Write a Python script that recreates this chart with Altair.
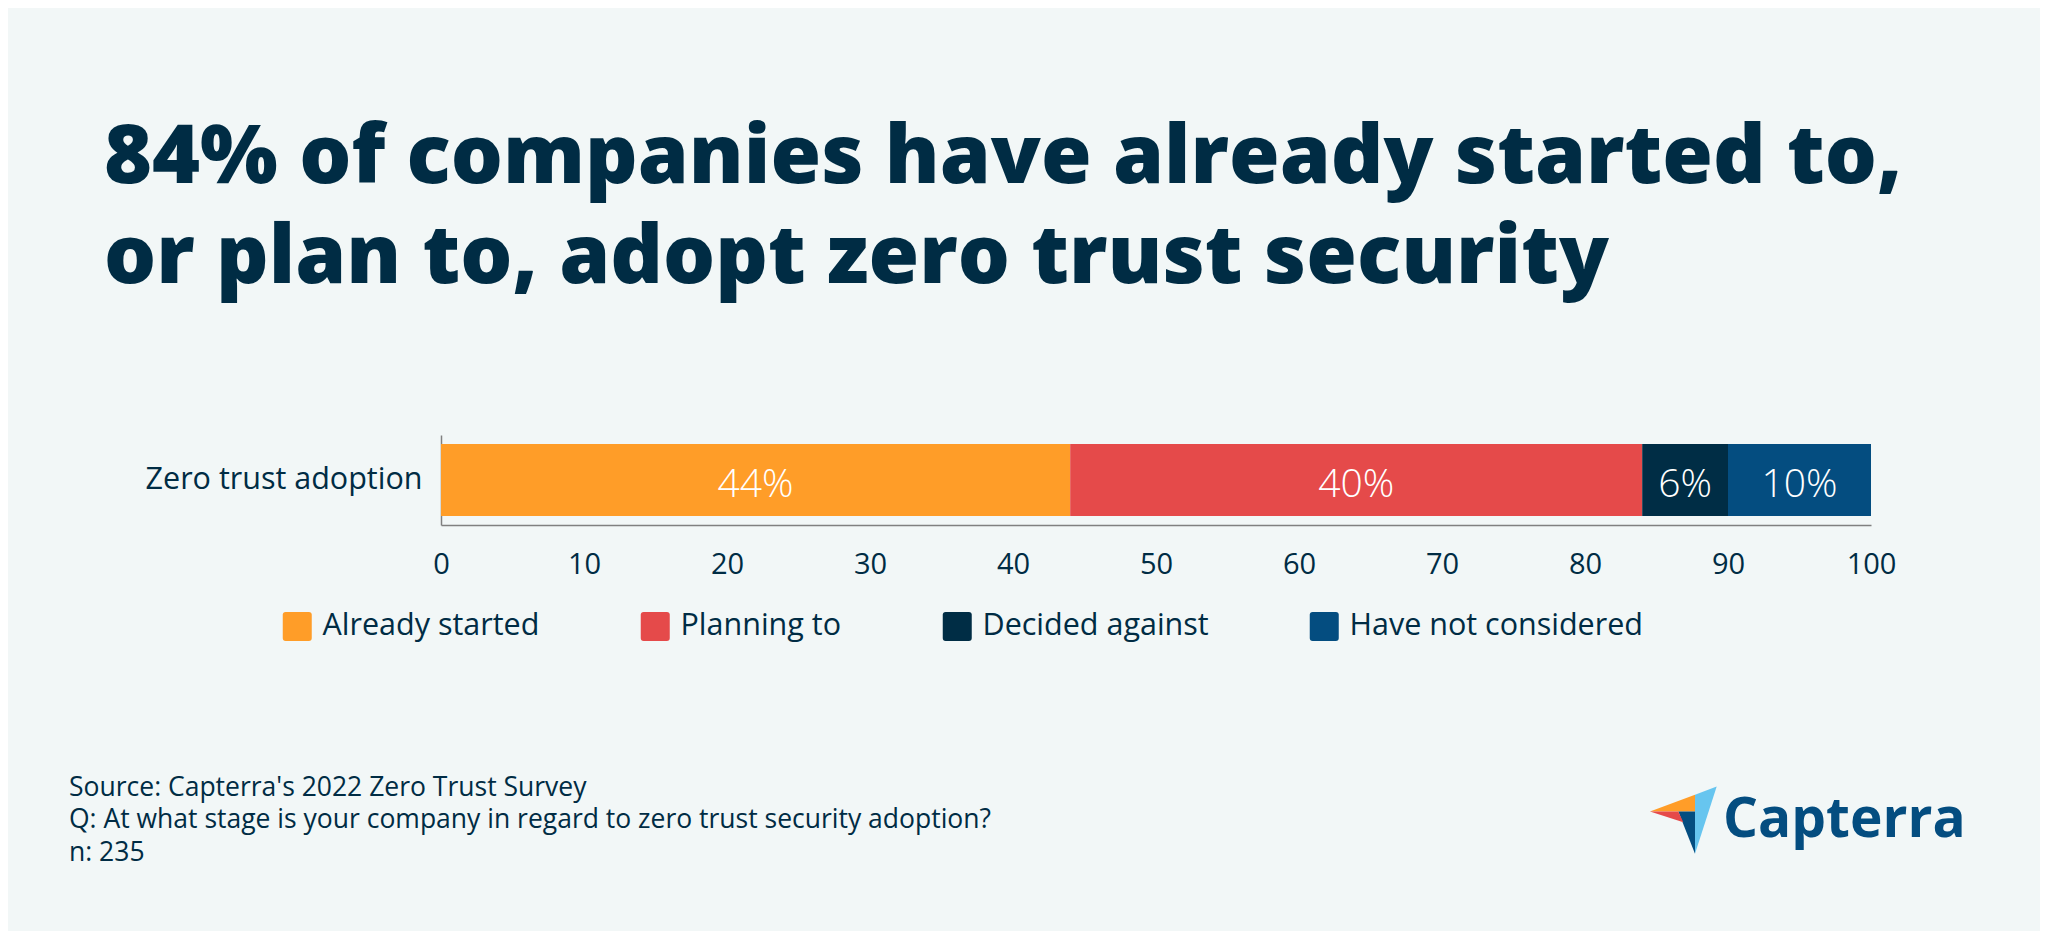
import altair as alt
import pandas as pd

# ---- data ----
question = ["Zero trust adoption"]
categories = ["Already started", "Planning to", "Decided against", "Have not considered"]
values = [44, 40, 6, 10]
bar_labels = ["44%", "40%", "6%", "10%"]
colors = ["#FF9D28", "#E54A4A", "#002D45", "#044D80"]
x_ticks = [0, 10, 20, 30, 40, 50, 60, 70, 80, 90, 100]
title_lines = ["84% of companies have already started to,", "or plan to, adopt zero trust security"]
footer_lines = [
    "Source: Capterra's 2022 Zero Trust Survey",
    "Q: At what stage is your company in regard to zero trust security adoption?",
    "n: 235",
]
brand = "Capterra"

FONT = "Open Sans"
TXT = "#002C44"
BG = "#F2F7F7"

df = pd.DataFrame({
    "question": question * len(categories),
    "category": categories,
    "value": values,
    "order": list(range(len(categories))),
    "label": bar_labels,
})

rounded_sq = ("M-0.8,-1 L0.8,-1 Q1,-1 1,-0.8 L1,0.8 Q1,1 0.8,1 L-0.8,1 "
              "Q-1,1 -1,0.8 L-1,-0.8 Q-1,-1 -0.8,-1 Z")

base = alt.Chart(df)

bars = base.mark_bar(size=72).encode(
    x=alt.X("value:Q", stack="zero",
            scale=alt.Scale(domain=[0, 100], nice=False),
            axis=alt.Axis(values=x_ticks, title=None, grid=False, ticks=False, tickSize=0,
                          labelPadding=25, labelFontSize=29, labelFont=FONT, labelColor=TXT,
                          domainColor="#808080", domainWidth=1.5, labelFlush=False)),
    y=alt.Y("question:N",
            axis=alt.Axis(title=None, ticks=False, tickSize=0, labelPadding=19,
                          labelFontSize=30.5, labelFont=FONT, labelColor=TXT, labelLimit=0,
                          domainColor="#808080", domainWidth=1.5)),
    color=alt.Color("category:N",
                    scale=alt.Scale(domain=categories, range=colors),
                    legend=alt.Legend(orient="none", legendX=-159, legendY=176,
                                      direction="horizontal", title=None,
                                      symbolType=rounded_sq, symbolSize=841,
                                      symbolStrokeWidth=0, symbolOpacity=1,
                                      labelFontSize=30.5, labelFont=FONT, labelColor=TXT,
                                      labelLimit=0, labelOffset=10, columnPadding=100)),
    order=alt.Order("order:Q"),
)

seg_text = base.transform_stack(
    stack="value", groupby=["question"], sort=[alt.SortField("order")], as_=["v0", "v1"]
).transform_calculate(
    mid="(datum.v0 + datum.v1) / 2"
).mark_text(
    font=FONT, fontSize=39, fontWeight=300, color="white", baseline="middle", dy=5
).encode(
    x=alt.X("mid:Q"),
    y=alt.Y("question:N"),
    text="label:N",
)

one = alt.Data(values=[{"k": 1}])


def txt(text, x, y, size, weight=400, color=TXT, align="left"):
    return alt.Chart(one).mark_text(
        text=text, font=FONT, fontSize=size, fontWeight=weight, color=color,
        align=align, baseline="alphabetic"
    ).encode(x=alt.value(x), y=alt.value(y))


layers = [bars, seg_text]
layers.append(txt(title_lines[0], -337, -252.5, 82, 800))
layers.append(txt(title_lines[1], -337, -152.5, 82, 800))
for i, line in enumerate(footer_lines):
    layers.append(txt(line, -372, 360.5 + 32.5 * i, 26.5))
layers.append(txt(brand, 1282, 401.5, 55, 700, "#044D80"))

# logo triangles (decoration)
logo_parts = [
    ("M-45,0 L0,-16.7 L0,0 Z", "#FF9D28"),
    ("M0,-16.7 L21.7,-25 L0,42.3 Z", "#67C5EF"),
    ("M-16.7,0 L0,0 L0,42.3 Z", "#044D80"),
    ("M-45,0 L-16.7,0 L-11.7,10.7 Z", "#E54A4A"),
]
for path, col in logo_parts:
    layers.append(
        alt.Chart(one).mark_point(shape=path, size=4, filled=True, fill=col,
                                  strokeWidth=0, opacity=1)
        .encode(x=alt.value(1254), y=alt.value(376.5))
    )

chart = alt.layer(*layers).properties(
    width=1430, height=90,
    autosize=alt.AutoSizeParams(type="none"),
    padding={"left": 433, "top": 427, "right": 169, "bottom": 406},
    background=BG,
).configure_view(stroke=None)

chart.save("out.html", embed_options={"renderer": "svg", "actions": False})
